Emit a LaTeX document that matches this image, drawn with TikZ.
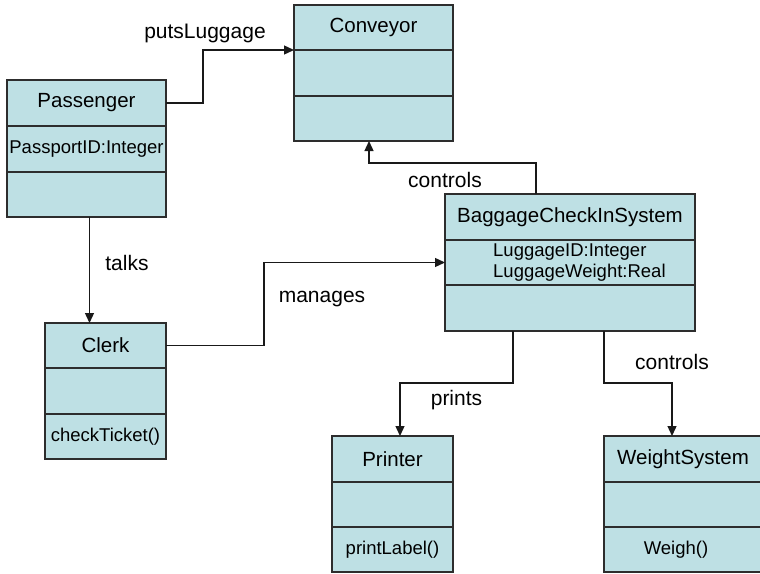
\documentclass[tikz,border=0pt]{standalone}
\usepackage{fontspec}
\setmainfont{Liberation Sans}
\usetikzlibrary{arrows.meta,calc}
\definecolor{boxblue}{RGB}{190,224,228}
\definecolor{edge}{RGB}{45,45,45}
\tikzset{
  sec/.style={draw=edge, fill=boxblue, line width=1.3pt, inner sep=0pt, outer sep=0pt, anchor=north west},
  ttl/.style={font=\fontsize{20.5}{24}\selectfont},
  att/.style={font=\fontsize{18.5}{22}\selectfont},
  lbl/.style={font=\fontsize{21}{25}\selectfont, inner sep=0pt},
  conn/.style={draw=black!90, line width=1.3pt, -{Triangle[length=10pt,width=9pt]}}
}
\begin{document}
\begin{tikzpicture}[x=1pt,y=-1pt]
\useasboundingbox (0,0) rectangle (760,573);
% Passenger
\node[sec,ttl,minimum width=159pt,minimum height=46pt] (pas) at (7,80) {Passenger};
\node[sec,att,minimum width=159pt,minimum height=46pt] (pasA) at (7,126) {PassportID:Integer};
\node[sec,minimum width=159pt,minimum height=45pt] (pasM) at (7,172) {};
% Conveyor
\node[sec,ttl,minimum width=159pt,minimum height=45pt] (con) at (294,5) {Conveyor};
\node[sec,minimum width=159pt,minimum height=46pt] (conA) at (294,50) {};
\node[sec,minimum width=159pt,minimum height=45pt] (conM) at (294,96) {};
% BaggageCheckInSystem
\node[sec,ttl,minimum width=250pt,minimum height=46pt] (bag) at (445,194) {BaggageCheckInSystem};
\node[sec,minimum width=250pt,minimum height=45pt] (bagA) at (445,240) {};
\node[att,anchor=west,align=left,inner sep=0pt] (bagAt) at (493,262.5) {LuggageID:Integer\\[-1pt]LuggageWeight:Real};
\node[sec,minimum width=250pt,minimum height=46pt] (bagM) at (445,285) {};
% Clerk
\node[sec,ttl,minimum width=121pt,minimum height=45pt] (clk) at (45,323) {Clerk};
\node[sec,minimum width=121pt,minimum height=46pt] (clkA) at (45,368) {};
\node[sec,att,minimum width=121pt,minimum height=45pt] (clkM) at (45,414) {checkTicket()};
% Printer
\node[sec,ttl,minimum width=121pt,minimum height=46pt] (prt) at (332,436) {Printer};
\node[sec,minimum width=121pt,minimum height=45pt] (prtA) at (332,482) {};
\node[sec,att,minimum width=121pt,minimum height=45pt] (prtM) at (332,527) {printLabel()};
% WeightSystem
\node[sec,ttl,minimum width=158pt,minimum height=46pt] (ws) at (604,436) {WeightSystem};
\node[sec,minimum width=158pt,minimum height=45pt] (wsA) at (604,482) {};
\node[sec,minimum width=158pt,minimum height=45pt] (wsM) at (604,527) {};
\node[att,inner sep=0pt] (wsMt) at (676,549.5) {Weigh()};
% connectors
\draw[conn] (pas.east) -- ++(37,0) |- (con.south west);
\draw[conn] ([xshift=-34pt]bag.north) -- ++(0,-31) -| ([xshift=-4.5pt]conM.south);
\draw[conn] ([xshift=3pt]pasM.south) -- ([xshift=3pt]pasM.south |- clk.north);
\draw[conn] (clk.east) -- ++(98,0) |- (bagA.west);
\draw[conn] ([xshift=-57pt]bagM.south) -- ++(0,52) -| ([xshift=7.5pt]prt.north);
\draw[conn] ([xshift=34pt]bagM.south) -- ++(0,52) -| ([xshift=-11pt]ws.north);
% labels
\node[lbl] (l1) at (205,33) {putsLuggage};
\node[lbl] (l2) at (445,180) {controls};
\node[lbl] (l3) at (127,263) {talks};
\node[lbl] (l4) at (322,299) {manages};
\node[lbl] (l5) at (456.5,400) {prints};
\node[lbl] (l6) at (672,362) {controls};
\end{tikzpicture}
\end{document}
